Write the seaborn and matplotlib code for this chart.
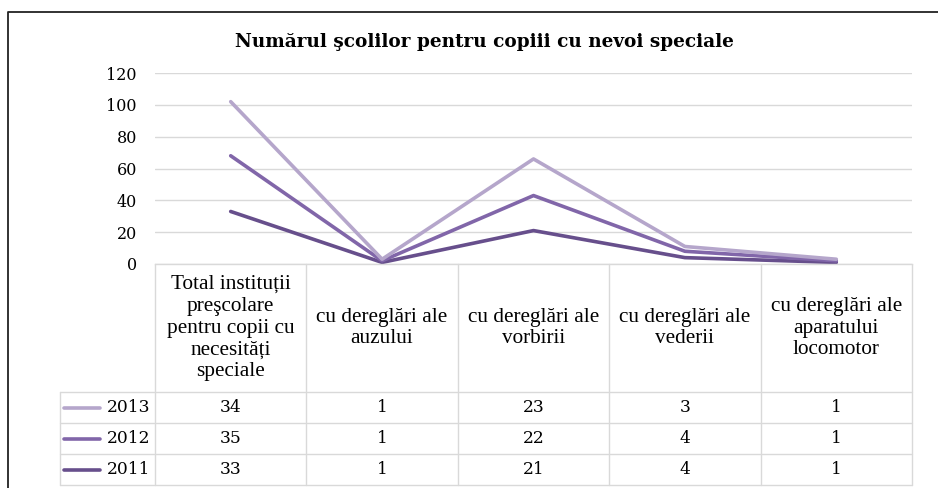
import matplotlib
matplotlib.use("Agg")
import matplotlib.pyplot as plt
import numpy as np
import pandas as pd
import seaborn as sns
from matplotlib.lines import Line2D

# Data
categories = [
    "Total instituții\npreşcolare\npentru copii cu\nnecesități\nspeciale",
    "cu dereglări ale\nauzului",
    "cu dereglări ale\nvorbirii",
    "cu dereglări ale\nvederii",
    "cu dereglări ale\naparatului\nlocomotor",
]
years = ["2011", "2012", "2013"]
v2011 = [33, 1, 21, 4, 1]
v2012 = [35, 1, 22, 4, 1]
v2013 = [34, 1, 23, 3, 1]
colors = {"2011": "#674f8c", "2012": "#8166a9", "2013": "#b5a6cb"}
title = "Numărul şcolilor pentru copiii cu nevoi speciale"

series = {"2011": v2011, "2012": v2012, "2013": v2013}
stacked = np.cumsum(np.array([v2011, v2012, v2013]), axis=0)

rows = []
for i, y in enumerate(years):
    for j in range(len(categories)):
        rows.append({"x": j, "year": y, "value": stacked[i, j]})
df = pd.DataFrame(rows)

sns.set_style("white")
plt.rcParams["font.family"] = ["DejaVu Serif"]
plt.rcParams["text.color"] = "black"

W, H = 938, 488
fig = plt.figure(figsize=(W / 100, H / 100), dpi=100)

# plot area in pixels
left, right, top, bottom = 155, 912, 73, 264
ax = fig.add_axes([left / W, 1 - bottom / H, (right - left) / W, (bottom - top) / H])

sns.lineplot(data=df, x="x", y="value", hue="year", palette=colors,
             linewidth=2.6, ax=ax, legend=False, sort=False)
for line in ax.lines:
    line.set_solid_capstyle("round")
    line.set_solid_joinstyle("round")

ax.set_xlim(-0.5, len(categories) - 0.5)
ax.set_ylim(0, 120)
ax.set_yticks(range(0, 121, 20))
ax.set_xticks([])
ax.set_xlabel("")
ax.set_ylabel("")
ax.grid(axis="y", color="#d9d9d9", linewidth=1)
ax.set_axisbelow(True)
for s in ["left", "right", "top"]:
    ax.spines[s].set_visible(False)
ax.spines["bottom"].set_color("#d9d9d9")
ax.spines["bottom"].set_linewidth(1)
ax.tick_params(axis="y", length=0, labelsize=11.5, pad=13, labelcolor="black")

fig.text(484 / W, 1 - 42 / H, title, ha="center", va="center",
         fontsize=13.3, fontweight="bold")

# data table below the axis
trans = ax.get_xaxis_transform()
def fy(py):
    return (bottom - py) / (bottom - top)

grid_c = "#d9d9d9"
leg_left = -1.13
row_lines = [392, 423, 454, 485]
n = len(categories)
# horizontal lines
for k, py in enumerate(row_lines):
    ax.plot([leg_left, n - 0.5], [fy(py)] * 2, transform=trans, color=grid_c,
            lw=1, clip_on=False)
# vertical lines
for j in range(n + 1):
    ax.plot([j - 0.5] * 2, [fy(bottom), fy(row_lines[-1])], transform=trans,
            color=grid_c, lw=1, clip_on=False)
ax.plot([leg_left] * 2, [fy(row_lines[0]), fy(row_lines[-1])], transform=trans,
        color=grid_c, lw=1, clip_on=False)

for j, cat in enumerate(categories):
    ax.text(j, fy(328), cat, transform=trans, ha="center", va="center",
            fontsize=15.3, family=["Liberation Serif"], linespacing=1.2)

for r, y in enumerate(["2013", "2012", "2011"]):
    cy = fy((row_lines[r] + row_lines[r + 1]) / 2)
    ax.plot([leg_left + 0.03, leg_left + 0.27], [cy, cy], transform=trans,
            color=colors[y], lw=2.6, clip_on=False, solid_capstyle="round")
    ax.text(-0.53, cy, y, transform=trans, ha="right", va="center", fontsize=12.3)
    for j, v in enumerate(series[y]):
        ax.text(j, cy, str(v), transform=trans, ha="center", va="center",
                fontsize=12.3)

# outer chart border (left and top only visible)
fig.add_artist(Line2D([8 / W, 8 / W, 1], [0, 1 - 12 / H, 1 - 12 / H],
                      transform=fig.transFigure, color="#222222", lw=1.3))

fig.savefig("out.png", dpi=100)
